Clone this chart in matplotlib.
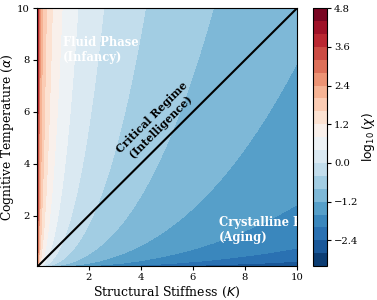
import numpy as np
import matplotlib
matplotlib.use("Agg")
import matplotlib.pyplot as plt

# grid ranges for stiffness K and temperature alpha
k_range = (0.01, 10.0)
alpha_range = (0.05, 10.0)
n_grid = 100
# susceptibility model: chi = alpha**alpha_exp / K**k_exp
alpha_exp = 0.78
k_exp = 1.9
levels = np.round(np.arange(-3.2, 4.81, 0.4), 2)
cbar_ticks = [-2.4, -1.2, 0.0, 1.2, 2.4, 3.6, 4.8]
ticks = [2, 4, 6, 8, 10]

plt.rcParams['font.family'] = 'DejaVu Serif'

K = np.linspace(k_range[0], k_range[1], n_grid)
A = np.linspace(alpha_range[0], alpha_range[1], n_grid)
KK, AA = np.meshgrid(K, A)
chi = AA**alpha_exp / KK**k_exp
Z = np.log10(chi)

fig = plt.figure(figsize=(3.77, 3.0), dpi=100)
ax = fig.add_axes([0.098, 0.113, 0.69, 0.86])
cax = fig.add_axes([0.831, 0.113, 0.037, 0.86])

cf = ax.contourf(KK, AA, Z, levels=levels, cmap='RdBu_r')
ax.plot([0, 10], [0, 10], color='black', lw=1.5)

ax.text(1.0, 8.4, "Fluid Phase\n(Infancy)", color='white', fontweight='bold',
        fontsize=8.3, ha='left', va='center')
ax.text(4.6, 5.6, "Critical Regime\n(Intelligence)", color='black', fontweight='bold',
        fontsize=7.8, ha='center', va='center', rotation=45)
ax.text(7.0, 1.45, "Crystalline Phase\n(Aging)", color='white', fontweight='bold',
        fontsize=8.3, ha='left', va='center', clip_on=True)

ax.set_xticks(ticks)
ax.set_yticks(ticks)
ax.set_xlim(k_range)
ax.set_ylim(alpha_range)
ax.tick_params(labelsize=7.2, length=3, pad=2)
ax.set_xlabel("Structural Stiffness ($K$)", fontsize=9, labelpad=2)
ax.set_ylabel(r"Cognitive Temperature ($\alpha$)", fontsize=8.8, labelpad=1)

cb = fig.colorbar(cf, cax=cax, ticks=cbar_ticks)
cb.ax.tick_params(labelsize=7.2, length=3, pad=2)
cb.set_label(r"$\log_{10}(\chi)$", fontsize=8.8, labelpad=1)

fig.savefig("out.png", dpi=100)
